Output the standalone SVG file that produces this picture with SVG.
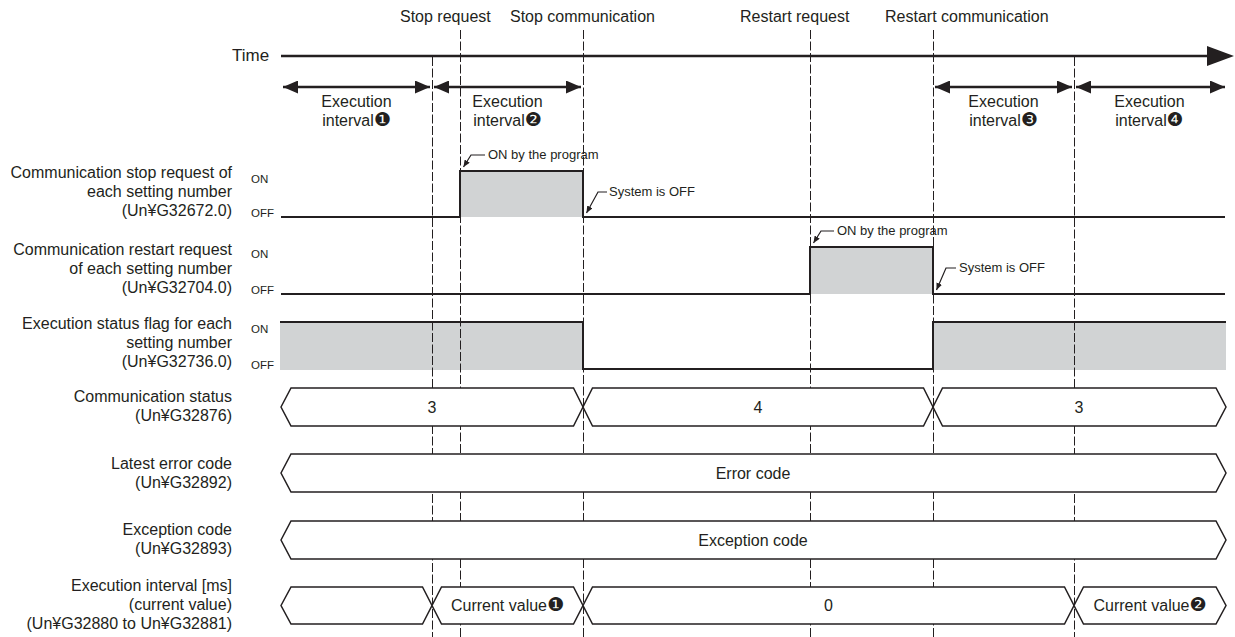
<svg xmlns="http://www.w3.org/2000/svg" width="1235" height="637" viewBox="0 0 1235 637">
<style>
text{font-family:"Liberation Sans","DejaVu Sans",sans-serif;fill:#231f20}
.lbl{font-size:16px;text-anchor:end}
.top{font-size:16px}
.mid{font-size:16px;text-anchor:middle}
.onoff{font-size:11.5px}
.note{font-size:13px}
.num{font-size:19px}
.dash{stroke:#231f20;stroke-width:1;stroke-dasharray:9 2.5;fill:none}
.sig{stroke:#231f20;stroke-width:2;fill:none}
.gray{fill:#d1d3d4;stroke:none}
.bus{fill:#fff;stroke:#231f20;stroke-width:1.5}
.arr{stroke:#231f20;stroke-width:2.5;fill:none}
.lead{stroke:#231f20;stroke-width:1.2;fill:none}
</style>
<defs>
<marker id="ah" viewBox="0 0 15 13" refX="15" refY="6.5" markerWidth="15" markerHeight="13" markerUnits="userSpaceOnUse" orient="auto-start-reverse">
<path d="M0,0 L15,6.5 L0,13 z" fill="#231f20"/>
</marker>
<marker id="lh" viewBox="0 0 7 6" refX="7" refY="3" markerWidth="7" markerHeight="6" markerUnits="userSpaceOnUse" orient="auto">
<path d="M0,0 L7,3 L0,6 z" fill="#231f20"/>
</marker>
</defs>

<g id="gray-fills">
<rect class="gray" x="460" y="171" width="123" height="46"/>
<rect class="gray" x="810" y="247" width="123" height="47"/>
<rect class="gray" x="280" y="322" width="303" height="48"/>
<rect class="gray" x="933" y="322" width="293" height="48"/>
</g>

<g id="connectors">
<line class="dash" x1="432.5" y1="57" x2="432.5" y2="637"/>
<line class="dash" x1="460.5" y1="30" x2="460.5" y2="637"/>
<line class="dash" x1="583.5" y1="30" x2="583.5" y2="637"/>
<line class="dash" x1="810.5" y1="30" x2="810.5" y2="637"/>
<line class="dash" x1="933.5" y1="30" x2="933.5" y2="637"/>
<line class="dash" x1="1074.5" y1="57" x2="1074.5" y2="637"/>
<line x1="281" y1="56" x2="1210" y2="56" stroke="#231f20" stroke-width="2.5"/>
<polygon points="1207,46 1234,56 1207,66" fill="#231f20"/>
<line class="arr" x1="283" y1="87" x2="430" y2="87" marker-start="url(#ah)" marker-end="url(#ah)"/>
<line class="arr" x1="434" y1="87" x2="581" y2="87" marker-start="url(#ah)" marker-end="url(#ah)"/>
<line class="arr" x1="935" y1="87" x2="1072" y2="87" marker-start="url(#ah)" marker-end="url(#ah)"/>
<line class="arr" x1="1076" y1="87" x2="1225" y2="87" marker-start="url(#ah)" marker-end="url(#ah)"/>
<path class="lead" d="M485,155 H471 L463.5,167" marker-end="url(#lh)"/>
<path class="lead" d="M607,192 H598 L586.5,213" marker-end="url(#lh)"/>
<path class="lead" d="M834,231 H821 L813.5,243" marker-end="url(#lh)"/>
<path class="lead" d="M956,268 H946 L936.5,290" marker-end="url(#lh)"/>
</g>

<g id="time-axis">
<text x="232" y="61" style="font-size:17px">Time</text>
<text class="top" x="400" y="22">Stop request</text>
<text class="top" x="510" y="22">Stop communication</text>
<text class="top" x="740" y="22">Restart request</text>
<text class="top" x="885" y="22">Restart communication</text>
</g>

<g id="intervals">
<text class="mid" x="356.5" y="107">Execution</text>
<text class="mid" x="356.5" y="126">interval<tspan class="num">❶</tspan></text>
<text class="mid" x="507.5" y="107">Execution</text>
<text class="mid" x="507.5" y="126">interval<tspan class="num">❷</tspan></text>
<text class="mid" x="1003.5" y="107">Execution</text>
<text class="mid" x="1003.5" y="126">interval<tspan class="num">❸</tspan></text>
<text class="mid" x="1149.5" y="107">Execution</text>
<text class="mid" x="1149.5" y="126">interval<tspan class="num">❹</tspan></text>
</g>

<g id="stop-request">
<text class="lbl" x="232" y="178">Communication stop request of</text>
<text class="lbl" x="232" y="197">each setting number</text>
<text class="lbl" x="232" y="216">(Un¥G32672.0)</text>
<text class="onoff" x="251" y="183">ON</text>
<text class="onoff" x="251" y="217">OFF</text>
<path class="sig" d="M281,217 H460 V171 H583 V217 H1225"/>
<text class="note" x="488" y="159">ON by the program</text>
<text class="note" x="609" y="196">System is OFF</text>
</g>

<g id="restart-request">
<text class="lbl" x="232" y="255">Communication restart request</text>
<text class="lbl" x="232" y="274">of each setting number</text>
<text class="lbl" x="232" y="293">(Un¥G32704.0)</text>
<text class="onoff" x="251" y="258">ON</text>
<text class="onoff" x="251" y="293.5">OFF</text>
<path class="sig" d="M281,294 H810 V247 H933 V294 H1225"/>
<text class="note" x="837" y="235">ON by the program</text>
<text class="note" x="959" y="272">System is OFF</text>
</g>

<g id="execution-status">
<text class="lbl" x="232" y="329">Execution status flag for each</text>
<text class="lbl" x="232" y="348">setting number</text>
<text class="lbl" x="232" y="367">(Un¥G32736.0)</text>
<text class="onoff" x="251" y="333">ON</text>
<text class="onoff" x="251" y="368.5">OFF</text>
<path class="sig" d="M280,322 H583 V369 H933 V322 H1226"/>
</g>

<g id="communication-status">
<text class="lbl" x="232" y="402">Communication status</text>
<text class="lbl" x="232" y="421">(Un¥G32876)</text>
<polygon class="bus" points="281,407 291,388 573.5,388 583,407 573.5,426 291,426"/>
<polygon class="bus" points="583,407 592.5,388 923.5,388 933,407 923.5,426 592.5,426"/>
<polygon class="bus" points="933,407 942.5,388 1216,388 1226,407 1216,426 942.5,426"/>
<text class="mid" x="432" y="413">3</text>
<text class="mid" x="758" y="413">4</text>
<text class="mid" x="1079" y="413">3</text>
</g>

<g id="latest-error-code">
<text class="lbl" x="232" y="469">Latest error code</text>
<text class="lbl" x="232" y="488">(Un¥G32892)</text>
<polygon class="bus" points="281,473 291,454 1216,454 1226,473 1216,492 291,492"/>
<text class="mid" x="753" y="479">Error code</text>
</g>

<g id="exception-code">
<text class="lbl" x="232" y="535">Exception code</text>
<text class="lbl" x="232" y="554">(Un¥G32893)</text>
<polygon class="bus" points="281,540 291,521 1216,521 1226,540 1216,559 291,559"/>
<text class="mid" x="753" y="546">Exception code</text>
</g>

<g id="execution-interval">
<text class="lbl" x="232" y="591">Execution interval [ms]</text>
<text class="lbl" x="232" y="610">(current value)</text>
<text class="lbl" x="232" y="629">(Un¥G32880 to Un¥G32881)</text>
<polygon class="bus" points="281,605.5 291,587 422.5,587 432,605.5 422.5,624 291,624"/>
<polygon class="bus" points="432,605.5 441.5,587 573.5,587 583,605.5 573.5,624 441.5,624"/>
<polygon class="bus" points="583,605.5 592.5,587 1064.5,587 1074,605.5 1064.5,624 592.5,624"/>
<polygon class="bus" points="1074,605.5 1083.5,587 1216,587 1226,605.5 1216,624 1083.5,624"/>
<text class="mid" x="507.5" y="611">Current value<tspan class="num">❶</tspan></text>
<text class="mid" x="828.5" y="611">0</text>
<text class="mid" x="1150" y="611">Current value<tspan class="num">❷</tspan></text>
</g>
</svg>
